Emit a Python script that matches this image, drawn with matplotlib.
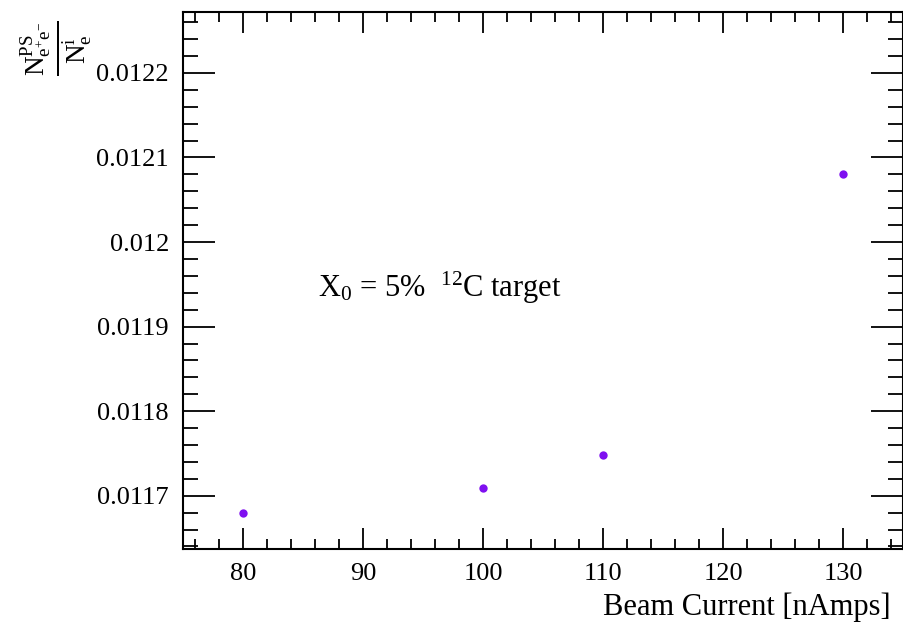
import numpy as np
import matplotlib
matplotlib.use("Agg")
import matplotlib.pyplot as plt
from matplotlib.ticker import MultipleLocator, FuncFormatter

# pair-spectrometer yield per incident electron vs beam current
beam_current = [80, 100, 110, 130]
ratio = [0.011680, 0.011709, 0.011748, 0.012080]

plt.rcParams['font.family'] = ['Liberation Serif', 'DejaVu Serif']
plt.rcParams['mathtext.fontset'] = 'custom'
plt.rcParams['mathtext.rm'] = 'Liberation Serif'
plt.rcParams['mathtext.it'] = 'Liberation Serif:italic'

fig = plt.figure(figsize=(9.04, 6.33), dpi=100)
ax = fig.add_axes([0.2024, 0.1327, 0.7965, 0.8483])

ax.plot(beam_current, ratio, 'o', color='#7f10f0', markersize=6, markeredgewidth=0)

ax.set_xlim(75, 135)
ax.set_ylim(0.011637, 0.012272)

ax.xaxis.set_major_locator(MultipleLocator(10))
ax.xaxis.set_minor_locator(MultipleLocator(2))
ax.yaxis.set_major_locator(MultipleLocator(0.0001))
ax.yaxis.set_minor_locator(MultipleLocator(0.00002))
ax.yaxis.set_major_formatter(FuncFormatter(lambda v, p: '%g' % round(v, 6)))

ax.tick_params(which='both', direction='in', top=True, right=True, labelsize=19, width=1.3)
ax.tick_params(axis='x', which='major', length=15, pad=10)
ax.tick_params(axis='x', which='minor', length=7)
ax.tick_params(axis='y', which='major', length=23, pad=10)
ax.tick_params(axis='y', which='minor', length=11)
for s in ax.spines.values():
    s.set_linewidth(1.5)

ax.text(0.188, 0.47, r'X$_0$ = 5%  $^{12}$C target', transform=ax.transAxes,
        fontsize=22, va='baseline')

fig.text(0.985, 0.018, 'Beam Current [nAmps]', ha='right', va='bottom', fontsize=22)
fig.text(0.02, 0.968, r'$\mathrm{\frac{N^{PS}_{e^{+}e^{-}}}{N^{i}_{e}}}$', rotation=90,
         ha='left', va='top', fontsize=28)

fig.savefig('out.png', dpi=100)
